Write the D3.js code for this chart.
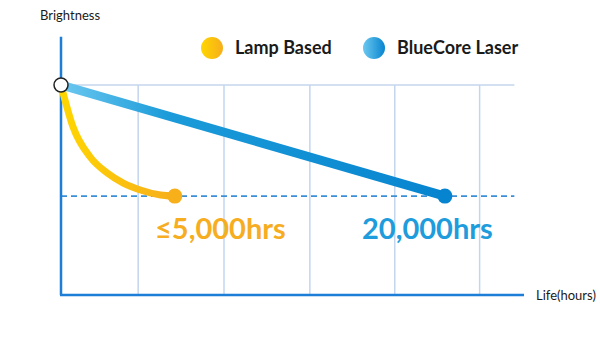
<!DOCTYPE html>
<html>
<head>
<meta charset="utf-8">
<script src="https://cdn.jsdelivr.net/npm/d3@7"></script>
<style>
  body { margin: 0; background: #fff; }
  svg { display: block; font-family: Lato, "Open Sans", sans-serif; }
</style>
</head>
<body>
<svg id="chart" width="600" height="346"></svg>
<script>
// schematic values (hours / brightness %)
var gridHours = [4000, 8450, 12900, 17300, 21700];
var lampHours = [0, 625, 1510, 2400, 3230, 4110, 5160, 5900];
var lampBrightness = [100, 80, 65.7, 58.1, 53.3, 50, 47.6, 47.1];
var laserHours = [0, 19900];
var laserBrightness = [100, 47.1];
var thresholdLevel = 47.1;
var legendNames = ["Lamp Based", "BlueCore Laser"];
var endLabels = ["\u22645,000hrs", "20,000hrs"];

var svg = d3.select("#chart");

var x = d3.scaleLinear().domain([0, 24000]).range([61, 524]);
var y = d3.scaleLinear().domain([0, 100]).range([295, 85]);

var defs = svg.append("defs");
function grad(id, stops, x1, x2) {
    var g = defs.append("linearGradient").attr("id", id)
        .attr("gradientUnits", x1 == null ? "objectBoundingBox" : "userSpaceOnUse");
    if (x1 != null) g.attr("x1", x1).attr("x2", x2).attr("y1", 0).attr("y2", 0);
    stops.forEach(function(s) {
        g.append("stop").attr("offset", s[0]).attr("stop-color", s[1]);
    });
}
grad("blueLine", [["0%", "#6cc8f0"], ["28%", "#1b9bd9"], ["100%", "#0784cf"]], x(0), x(laserHours[1]));
grad("lampLine", [["0%", "#ffd600"], ["100%", "#f7ae1c"]], x(0), x(lampHours[lampHours.length - 1]));
grad("blueDot", [["0%", "#6cc8f0"], ["100%", "#0784cf"]]);
grad("lampDot", [["0%", "#ffd600"], ["100%", "#f7ae1c"]]);

// grid
var grid = svg.append("g").attr("class", "grid");
grid.selectAll("line.v")
    .data(gridHours)
    .enter().append("line")
    .attr("class", "v")
    .attr("x1", function(d) { return x(d); })
    .attr("x2", function(d) { return x(d); })
    .attr("y1", y(100))
    .attr("y2", y(0))
    .attr("stroke", "#c3d6ee")
    .attr("stroke-width", 1.5);

grid.append("line")
    .attr("x1", x(0)).attr("x2", x(23500))
    .attr("y1", y(100)).attr("y2", y(100))
    .attr("stroke", "#c3d6ee")
    .attr("stroke-width", 1.5);

grid.append("line")
    .attr("x1", x(0)).attr("x2", x(23500))
    .attr("y1", y(thresholdLevel)).attr("y2", y(thresholdLevel))
    .attr("stroke", "#3b8fd6")
    .attr("stroke-width", 1.8)
    .attr("stroke-dasharray", "6,4");

// axes
var axis = svg.append("g").attr("class", "axis");
axis.append("line")
    .attr("x1", x(0)).attr("x2", x(0))
    .attr("y1", y(123)).attr("y2", y(0))
    .attr("stroke", "#1c7ed6").attr("stroke-width", 2.5);
axis.append("line")
    .attr("x1", x(0) - 1).attr("x2", x(24000))
    .attr("y1", y(0)).attr("y2", y(0))
    .attr("stroke", "#1c7ed6").attr("stroke-width", 2.5);

svg.append("text")
    .attr("x", 40).attr("y", 20)
    .attr("font-size", 13)
    .attr("fill", "#1a1a1a")
    .text("Brightness");

svg.append("text")
    .attr("x", 536).attr("y", 300)
    .attr("font-size", 13)
    .attr("fill", "#1a1a1a")
    .text("Life(hours)");

// series
var line = d3.line()
    .x(function(d) { return x(d[0]); })
    .y(function(d) { return y(d[1]); });

svg.append("path")
    .datum(d3.zip(laserHours, laserBrightness))
    .attr("d", line)
    .attr("fill", "none")
    .attr("stroke", "url(#blueLine)")
    .attr("stroke-width", 9);

svg.append("path")
    .datum(d3.zip(lampHours, lampBrightness))
    .attr("d", line.curve(d3.curveMonotoneX))
    .attr("fill", "none")
    .attr("stroke", "url(#lampLine)")
    .attr("stroke-width", 7)
    .attr("stroke-linecap", "round");

svg.append("circle")
    .attr("cx", x(lampHours[lampHours.length - 1]))
    .attr("cy", y(lampBrightness[lampBrightness.length - 1]))
    .attr("r", 7.5)
    .attr("fill", "#f7b01a");

svg.append("circle")
    .attr("cx", x(laserHours[1]))
    .attr("cy", y(laserBrightness[1]))
    .attr("r", 7.5)
    .attr("fill", "#0784cf");

svg.append("circle")
    .attr("cx", x(0)).attr("cy", y(100))
    .attr("r", 7)
    .attr("fill", "#fff")
    .attr("stroke", "#222")
    .attr("stroke-width", 1.5);

// end labels
svg.append("text")
    .attr("x", 155).attr("y", 239)
    .attr("font-size", 29).attr("font-weight", 700)
    .attr("fill", "#f6ad1f")
    .text(endLabels[0]);

svg.append("text")
    .attr("x", 362).attr("y", 239)
    .attr("font-size", 29).attr("font-weight", 700)
    .attr("fill", "#1e9cdc")
    .text(endLabels[1]);

// legend
var legendX = [212, 374];
var legendFill = ["url(#lampDot)", "url(#blueDot)"];
var legend = svg.append("g").attr("class", "legend")
    .selectAll("g")
    .data(legendNames)
    .enter().append("g")
    .attr("transform", function(d, i) { return "translate(" + legendX[i] + ",48)"; });

legend.append("circle")
    .attr("r", 11)
    .attr("fill", function(d, i) { return legendFill[i]; });

legend.append("text")
    .attr("x", 23).attr("y", 6)
    .attr("font-size", 18).attr("font-weight", 700)
    .attr("fill", "#1a1a1a")
    .text(function(d) { return d; });
</script>
</body>
</html>
